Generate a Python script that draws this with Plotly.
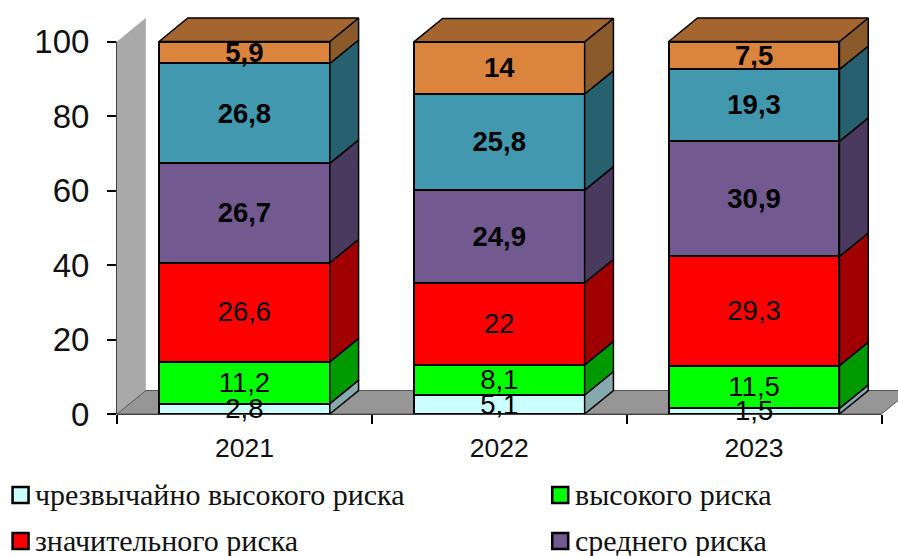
import plotly.graph_objects as go

years = ["2021", "2022", "2023"]
series_names = ["чрезвычайно высокого риска", "высокого риска", "значительного риска",
                "среднего риска", "умеренного риска", "низкого риска"]
v_extreme = [2.8, 5.1, 1.5]
v_high = [11.2, 8.1, 11.5]
v_signif = [26.6, 22, 29.3]
v_medium = [26.7, 24.9, 30.9]
v_moderate = [26.8, 25.8, 19.3]
v_low = [5.9, 14, 7.5]
series_values = [v_extreme, v_high, v_signif, v_medium, v_moderate, v_low]
front_colors = ["#CCFFFF", "#00FF00", "#FF0000", "#725990", "#4198AF", "#DB843D"]
side_colors = ["#86A9AE", "#009900", "#A00000", "#4A3A5E", "#27606F", "#8B5A2B"]
top_color = "#A5652F"
label_weights = ["normal", "normal", "normal", "bold", "bold", "bold"]
legend_count = 4

BAR_W = 0.67
DX = 0.113
DY = 6.3
LABEL_DROP = 0.6
cats = [0, 1, 2]

# pixel layout of the plot area
L, T, B = 116.5, 15.0, 142.0
PX_PER_CAT = 255.0
PX_PER_UNIT = 3.725
W, H = 898, 556
X_MAX = -0.5 + (W - L) / PX_PER_CAT
Y_MAX = (H - T - B) / PX_PER_UNIT

fig = go.Figure()


def label(v):
    return f"{v:g}".replace(".", ",")


for name, vals, col in zip(series_names, series_values, front_colors):
    fig.add_bar(
        x=cats, y=vals, name=name, width=BAR_W, showlegend=False,
        marker=dict(color=col, line=dict(color="black", width=2)),
        cliponaxis=False, hoverinfo="skip",
    )

# side faces, derived from the stacked values
base = [0.0, 0.0, 0.0]
label_traces = []
for vals, col, wt in zip(series_values, side_colors, label_weights):
    xs, ys, mids = [], [], []
    for i, c in enumerate(cats):
        r = c + BAR_W / 2
        b, t = base[i], base[i] + vals[i]
        xs += [r, r + DX, r + DX, r, r, None]
        ys += [b, b + DY, t + DY, t, b, None]
        mids.append((b + t) / 2 - LABEL_DROP)
        base[i] = t
    fig.add_scatter(x=xs, y=ys, mode="lines", fill="toself", fillcolor=col,
                    line=dict(color="black", width=1.5),
                    showlegend=False, hoverinfo="skip")
    label_traces.append(go.Scatter(
        x=cats, y=mids, mode="text", text=[label(v) for v in vals],
        textposition="middle center", cliponaxis=False, showlegend=False, hoverinfo="skip",
        textfont=dict(family="Liberation Sans", size=27.5, color="black", weight=wt)))

# top faces
xs, ys = [], []
for i, c in enumerate(cats):
    l, r, t = c - BAR_W / 2, c + BAR_W / 2, base[i]
    xs += [l, r, r + DX, l + DX, l, None]
    ys += [t, t, t + DY, t + DY, t, None]
fig.add_scatter(x=xs, y=ys, mode="lines", fill="toself", fillcolor=top_color,
                line=dict(color="black", width=1.5),
                showlegend=False, hoverinfo="skip")

# value labels above every face
for tr in label_traces:
    fig.add_trace(tr)


def pt(x, y):
    return f"{x:.5f} {y:.5f}"


def px(xp):
    return (xp - L) / (W - L)


def py(yp):
    return (H - B - yp) / (H - T - B)


wall = f"M{pt(-0.5, 0)} L{pt(-0.5 + DX, DY)} L{pt(-0.5 + DX, 100 + DY)} L{pt(-0.5, 100)} Z"
floor = f"M{pt(-0.5, 0)} L{pt(-0.5 + DX, DY)} L{pt(2.5 + DX, DY)} L{pt(2.5, 0)} Z"
axis_line = dict(color="black", width=1.5)
shapes = [
    dict(type="path", path=wall, xref="x", yref="y", fillcolor="#A9A9A9",
         line=dict(width=0), layer="below"),
    dict(type="path", path=floor, xref="x", yref="y", fillcolor="#969696",
         line=dict(color="#555555", width=1), layer="below"),
    dict(type="line", xref="paper", yref="paper", x0=0, x1=px(L + 3 * PX_PER_CAT), y0=0, y1=0,
         line=axis_line, layer="below"),
    dict(type="line", xref="paper", yref="paper", x0=0, x1=0, y0=0, y1=100 / Y_MAX,
         line=axis_line, layer="below"),
]

# legend (two visible rows)
leg_x = [[11, 32], [551, 573]]
leg_y = [495, 541]
annotations = []
for k in range(legend_count):
    col_i, row_i = k % 2, k // 2
    sx, tx = leg_x[col_i]
    cy = leg_y[row_i]
    shapes.append(dict(type="rect", xref="paper", yref="paper",
                       x0=px(sx + 1), x1=px(sx + 17),
                       y0=py(cy + 8), y1=py(cy - 8),
                       fillcolor=front_colors[k], line=dict(color="black", width=2.5)))
    annotations.append(dict(text=series_names[k], xref="paper", yref="paper",
                            x=px(tx), y=py(cy - 1), height=33,
                            xanchor="left", yanchor="middle", showarrow=False,
                            font=dict(family="Liberation Serif", size=30, color="#111111")))

fig.update_layout(
    width=W, height=H, autosize=False,
    margin=dict(l=L, r=0, t=T, b=B, pad=0),
    paper_bgcolor="white", plot_bgcolor="rgba(0,0,0,0)",
    barmode="stack", showlegend=False,
    shapes=shapes, annotations=annotations,
    font=dict(family="Liberation Sans", color="#111111"),
)
fig.update_xaxes(
    range=[-0.5, X_MAX], tickmode="array", tickvals=cats, ticktext=years,
    ticks="", showgrid=False, zeroline=False, showline=False,
    tickfont=dict(size=26.5), ticklabelstandoff=15,
    minor=dict(tickmode="array", tickvals=[-0.5, 0.5, 1.5, 2.5], ticks="outside",
               ticklen=9, tickwidth=1.5, tickcolor="black"),
)
fig.update_yaxes(
    range=[0, Y_MAX], tickmode="array", tickvals=[0, 20, 40, 60, 80, 100],
    ticks="outside", ticklen=9, tickwidth=1.5, tickcolor="black",
    showgrid=False, zeroline=False, showline=False,
    tickfont=dict(size=33), ticklabelstandoff=11,
)

fig.write_html("out.html", config={"displayModeBar": False},
               post_script="document.body.style.margin='0';")
